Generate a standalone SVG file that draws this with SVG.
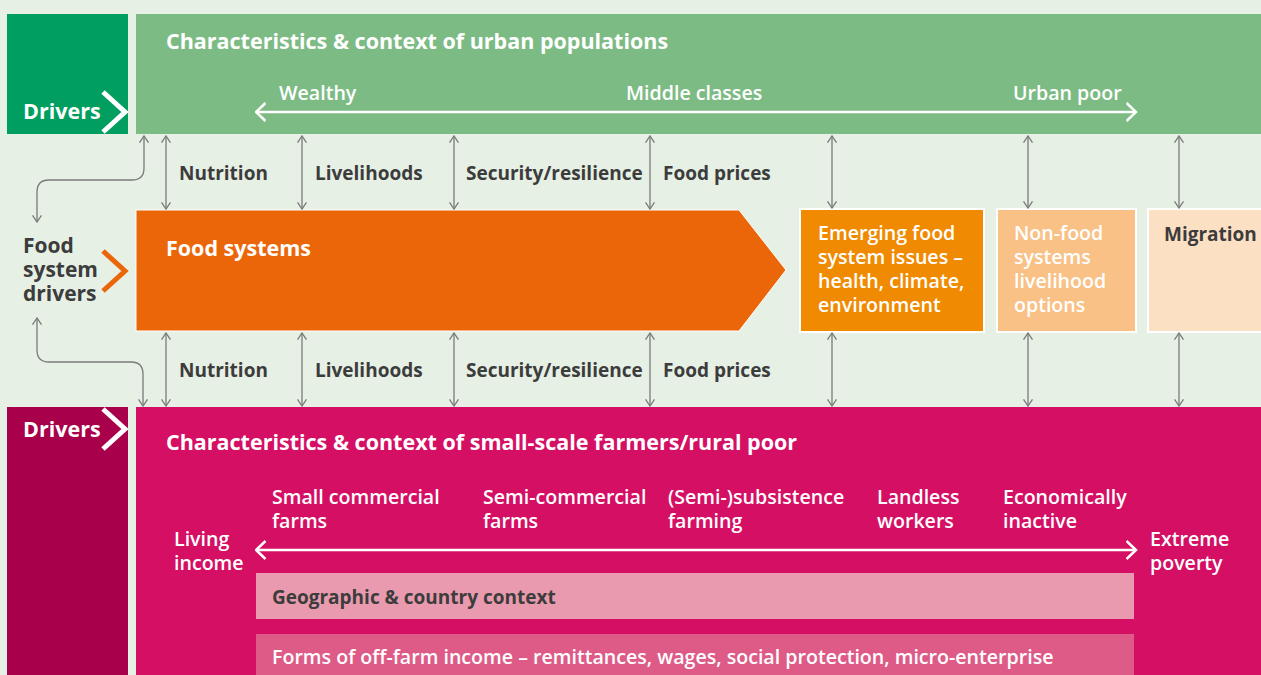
<svg xmlns="http://www.w3.org/2000/svg" width="1261" height="675" viewBox="0 0 1261 675">
<style>
text{font-family:"Open Sans","Liberation Sans",sans-serif}
.t{font-size:21.5px;font-weight:700;fill:#fff}
.d{font-size:19px;font-weight:700;fill:#3c3c3c}
.fd{font-size:21px}
.w{font-size:19.6px;font-weight:600;fill:#fff}
.g{stroke:#7a7a7a;stroke-width:1.3;fill:none;marker-start:url(#ga);marker-end:url(#ga)}
.wa{stroke:#fff;stroke-width:2.5;fill:none;marker-start:url(#wa);marker-end:url(#wa)}
.chev{fill:none;stroke-width:5}
</style>
<defs>
<marker id="ga" markerUnits="userSpaceOnUse" viewBox="0 0 8 10" refX="7.2" refY="5" markerWidth="8" markerHeight="10" orient="auto-start-reverse"><path d="M0.5,0.5 L7.2,5 L0.5,9.5" fill="none" stroke="#7a7a7a" stroke-width="1.3"/></marker>
<marker id="wa" markerUnits="userSpaceOnUse" viewBox="0 0 12 20" refX="10.5" refY="10" markerWidth="12" markerHeight="20" orient="auto-start-reverse"><path d="M1,1 L10.5,10 L1,19" fill="none" stroke="#fff" stroke-width="2.5"/></marker>
</defs>
<rect width="1261" height="675" fill="#e6f0e4"/>

<g id="urban-drivers">
<rect x="7" y="14" width="121" height="120" fill="#009e5f"/>
<text class="t" x="23" y="119">Drivers</text>
<path class="chev" stroke="#fff" d="M103,92 L125,112 L103,132"/>
</g>

<g id="urban">
<rect x="136" y="14" width="1125" height="120" fill="#7dbb85"/>
<text class="t" x="166" y="49">Characteristics &amp; context of urban populations</text>
<text class="w" x="279" y="100">Wealthy</text>
<text class="w" x="626" y="100">Middle classes</text>
<text class="w" x="1013" y="100">Urban poor</text>
</g>

<g id="food-system-drivers">
<text class="d fd" x="23" y="253">Food</text>
<text class="d fd" x="23" y="277">system</text>
<text class="d fd" x="23" y="301">drivers</text>
<path class="chev" stroke="#eb6608" d="M103,251 L125,271 L103,291"/>
</g>

<g id="food-systems">
<path d="M136,210 L739,210 L786,270 L739,331 L136,331 Z" fill="#eb6608" stroke="#fff" stroke-width="1"/>
<text class="t" x="166" y="256">Food systems</text>
</g>

<g id="emerging">
<rect x="800" y="209" width="184" height="123" fill="#f08a00" stroke="#fff" stroke-width="2"/>
<text class="w" x="818" y="240">Emerging food</text>
<text class="w" x="818" y="264">system issues –</text>
<text class="w" x="818" y="288">health, climate,</text>
<text class="w" x="818" y="312">environment</text>
</g>

<g id="non-food">
<rect x="997" y="209" width="139" height="123" fill="#f9c186" stroke="#fff" stroke-width="2"/>
<text class="w" x="1014" y="240">Non-food</text>
<text class="w" x="1014" y="264">systems</text>
<text class="w" x="1014" y="288">livelihood</text>
<text class="w" x="1014" y="312">options</text>
</g>

<g id="migration">
<rect x="1148" y="209" width="116" height="123" fill="#fce0c4" stroke="#fff" stroke-width="2"/>
<text class="d" x="1164" y="241">Migration</text>
</g>

<g id="link-labels">
<text class="d" x="179" y="180">Nutrition</text>
<text class="d" x="315" y="180">Livelihoods</text>
<text class="d" x="466" y="180">Security/resilience</text>
<text class="d" x="663" y="180">Food prices</text>
<text class="d" x="179" y="377">Nutrition</text>
<text class="d" x="315" y="377">Livelihoods</text>
<text class="d" x="466" y="377">Security/resilience</text>
<text class="d" x="663" y="377">Food prices</text>
</g>

<g id="rural-drivers">
<rect x="7" y="407" width="121" height="268" fill="#a8004a"/>
<text class="t" x="23" y="437">Drivers</text>
<path class="chev" stroke="#fff" d="M103,409 L125,429 L103,449"/>
</g>

<g id="rural">
<rect x="136" y="407" width="1125" height="268" fill="#d40f64"/>
<text class="t" x="166" y="450">Characteristics &amp; context of small-scale farmers/rural poor</text>
<text class="w" x="272" y="504">Small commercial</text>
<text class="w" x="272" y="528">farms</text>
<text class="w" x="483" y="504">Semi-commercial</text>
<text class="w" x="483" y="528">farms</text>
<text class="w" x="668" y="504">(Semi-)subsistence</text>
<text class="w" x="668" y="528">farming</text>
<text class="w" x="877" y="504">Landless</text>
<text class="w" x="877" y="528">workers</text>
<text class="w" x="1003" y="504">Economically</text>
<text class="w" x="1003" y="528">inactive</text>
<text class="w" x="174" y="546">Living</text>
<text class="w" x="174" y="570">income</text>
<text class="w" x="1150" y="546">Extreme</text>
<text class="w" x="1150" y="570">poverty</text>
</g>

<g id="geographic">
<rect x="256" y="573" width="878" height="46" fill="#e99aae"/>
<text class="d" x="272" y="604">Geographic &amp; country context</text>
</g>

<g id="off-farm">
<rect x="256" y="634" width="878" height="41" fill="#de5b87"/>
<text class="w" x="272" y="664">Forms of off-farm income – remittances, wages, social protection, micro-enterprise</text>
</g>

<g id="connectors">
<path class="wa" d="M256,112 L1136,112"/>
<path class="wa" d="M256,550 L1136,550"/>
<path class="g" d="M144,136 L144,168 Q144,180 132,180 L49,180 Q37,180 37,192 L37,222"/>
<path class="g" d="M37,318 L37,350 Q37,362 49,362 L131,362 Q143,362 143,374 L143,406"/>
<path class="g" d="M166,136 L166,209"/>
<path class="g" d="M302,136 L302,209"/>
<path class="g" d="M454,136 L454,209"/>
<path class="g" d="M650,136 L650,209"/>
<path class="g" d="M832,136 L832,208"/>
<path class="g" d="M1028,136 L1028,208"/>
<path class="g" d="M1179,136 L1179,208"/>
<path class="g" d="M166,333 L166,406"/>
<path class="g" d="M302,333 L302,406"/>
<path class="g" d="M454,333 L454,406"/>
<path class="g" d="M650,333 L650,406"/>
<path class="g" d="M832,333 L832,406"/>
<path class="g" d="M1028,333 L1028,406"/>
<path class="g" d="M1179,333 L1179,406"/>
</g>
</svg>
